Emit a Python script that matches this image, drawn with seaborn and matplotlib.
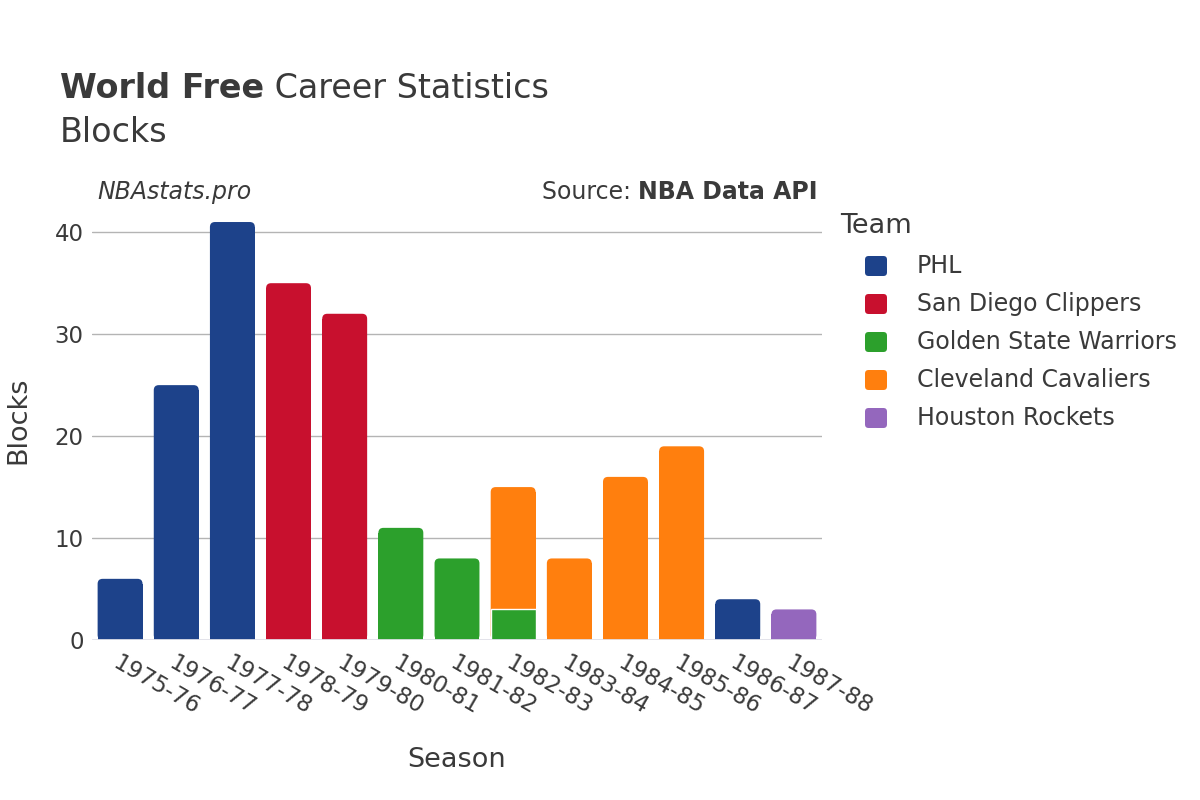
import numpy as np
import pandas as pd
import matplotlib
matplotlib.use("Agg")
import matplotlib.pyplot as plt
import seaborn as sns
from matplotlib.patches import FancyBboxPatch

# data
seasons = ['1975-76', '1976-77', '1977-78', '1978-79', '1979-80', '1980-81', '1981-82',
           '1982-83', '1983-84', '1984-85', '1985-86', '1986-87', '1987-88']
teams = ['PHL', 'San Diego Clippers', 'Golden State Warriors', 'Cleveland Cavaliers', 'Houston Rockets']
phl = [6, 25, 41, 0, 0, 0, 0, 0, 0, 0, 0, 4, 0]
sdc = [0, 0, 0, 35, 32, 0, 0, 0, 0, 0, 0, 0, 0]
gsw = [0, 0, 0, 0, 0, 11, 8, 3, 0, 0, 0, 0, 0]
cle = [0, 0, 0, 0, 0, 0, 0, 12, 8, 16, 19, 0, 0]
hou = [0, 0, 0, 0, 0, 0, 0, 0, 0, 0, 0, 0, 3]
colors = ['#1d428a', '#c8102e', '#2ca02c', '#ff7f0e', '#9467bd']


def build_frame():
    """Long table of stacked segments (top = cumulative height)"""
    rows = []
    running = np.zeros(len(seasons))
    for team, vals in zip(teams, [phl, sdc, gsw, cle, hou]):
        for i, v in enumerate(vals):
            if v > 0:
                rows.append({'season': seasons[i], 'team': team, 'value': v,
                             'top': running[i] + v})
        running = running + np.array(vals)
    return pd.DataFrame(rows), running


def main():
    sns.set_style("white")
    plt.rcParams['font.family'] = ['DejaVu Sans']
    txt = '#3a3a3a'

    df, totals = build_frame()

    fig = plt.figure(figsize=(12, 8), dpi=100)
    ax = fig.add_axes([92 / 1200, 160 / 800, 730 / 1200, 440 / 800])

    # overlay: higher stack segments drawn first, lower ones on top
    draw_order = teams[::-1]
    pal = dict(zip(teams, colors))
    sns.barplot(data=df, x='season', y='top', hue='team', order=seasons,
                hue_order=draw_order, palette=pal, dodge=False, width=0.8,
                saturation=1, legend=False, ax=ax, zorder=3)

    ymax = 43.16
    ax.set_ylim(0, ymax)
    ax.set_xlim(-0.5, len(seasons) - 0.5)

    # rounded tops for the top segment of each bar
    px_x = 730 / len(seasons)
    px_y = 440 / ymax
    r_px = 5
    rx, ry = r_px / px_x, r_px / px_y
    for p in list(ax.patches):
        h = p.get_height()
        if h <= 0:
            continue
        x0 = p.get_x()
        w = p.get_width()
        i = int(round(x0 + w / 2))
        if abs(h - totals[i]) < 1e-6:
            col = p.get_facecolor()
            p.set_height(h - ry)
            p.set_edgecolor('none')
            rb = FancyBboxPatch((x0, 0), w, h,
                                boxstyle=f"round,pad=0,rounding_size={rx}",
                                mutation_aspect=ry / rx, facecolor=col,
                                edgecolor='none', zorder=2.9)
            ax.add_patch(rb)
        else:
            p.set_edgecolor('white')
            p.set_linewidth(1.0)
            p.set_zorder(4)

    # axes styling
    for s in ax.spines.values():
        s.set_visible(False)
    ax.set_yticks([0, 10, 20, 30, 40])
    ax.grid(axis='y', color='#b4b4b4', linewidth=1, zorder=0)
    ax.axhline(0, color='#e2e2ea', linewidth=2, zorder=5)
    ax.tick_params(axis='both', length=0, labelsize=16.5, colors=txt)
    ax.tick_params(axis='y', pad=6)
    ax.set_xticks(range(len(seasons)))
    ax.set_xticklabels(seasons, rotation=-30, ha='left', rotation_mode='anchor')
    ax.tick_params(axis='x', pad=8)
    ax.set_xlabel('Season', fontsize=19.5, color=txt)
    ax.set_ylabel('Blocks', fontsize=19.5, color=txt)
    ax.xaxis.set_label_coords(0.5, -0.273)
    ax.xaxis.label.set_va('center')
    ax.yaxis.set_label_coords(-0.101, 0.5)
    ax.yaxis.label.set_va('center')

    # titles
    tsize = 24
    t1 = fig.text(60 / 1200, 1 - 88 / 800, 'World Free', fontsize=tsize, color=txt,
                  va='center', fontweight='bold')
    fig.canvas.draw()
    bb = t1.get_window_extent()
    fig.text(bb.x1 / 1200, 1 - 88 / 800, ' Career Statistics', fontsize=tsize,
             color=txt, va='center')
    fig.text(60 / 1200, 1 - 132 / 800, 'Blocks', fontsize=tsize, color=txt, va='center')

    fig.text(97 / 1200, 1 - 192 / 800, 'NBAstats.pro', fontsize=17, style='italic',
             color=txt, va='center')
    s2 = fig.text(818 / 1200, 1 - 192 / 800, 'NBA Data API', fontsize=17,
                  fontweight='bold', color=txt, va='center', ha='right')
    fig.canvas.draw()
    bb2 = s2.get_window_extent()
    fig.text(bb2.x0 / 1200, 1 - 192 / 800, 'Source: ', fontsize=17, color=txt,
             va='center', ha='right')

    # legend
    fig.text(840 / 1200, 1 - 226 / 800, 'Team', fontsize=19.5, color=txt, va='center')
    for k, (team, col) in enumerate(zip(teams, colors)):
        yc = 266 + 38 * k
        box = FancyBboxPatch(((876 - 11) / 1200, 1 - (yc + 10) / 800), 22 / 1200, 20 / 800,
                             boxstyle="round,pad=0,rounding_size=0.003",
                             mutation_aspect=1.5, transform=fig.transFigure,
                             facecolor=col, edgecolor='none')
        fig.patches.append(box)
        fig.text(917 / 1200, 1 - yc / 800, team, fontsize=17, color=txt, va='center')

    fig.savefig('out.png', dpi=100)
    plt.close(fig)


if __name__ == "__main__":
    main()
